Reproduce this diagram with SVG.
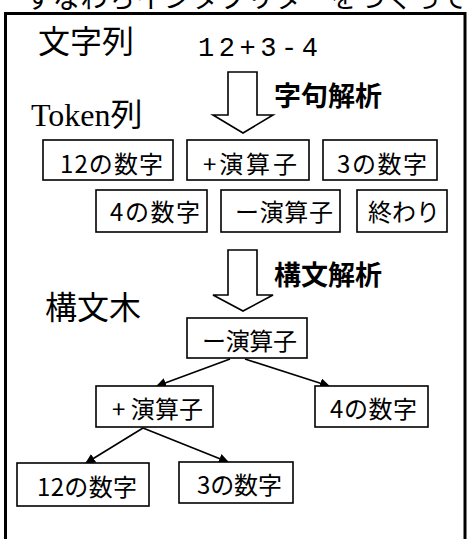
<svg xmlns="http://www.w3.org/2000/svg" width="471" height="539" viewBox="0 0 471 539">
<style>
.t{font-family:"Noto Sans CJK JP","Noto Sans",sans-serif;fill:#000}
.bx{fill:#fff;stroke:#000;stroke-width:1.6}
.lb{font-family:"Noto Sans CJK JP",sans-serif;font-size:24px;fill:#000}
.bd{font-family:"Noto Sans CJK JP",sans-serif;font-size:27px;font-weight:bold;fill:#000}
.ed{stroke:#000;stroke-width:1.6;fill:none;marker-end:url(#ah)}
.blk{fill:#fff;stroke:#000;stroke-width:1.6}
</style>
<defs>
<marker id="ah" viewBox="0 0 10 10" refX="9" refY="5" markerWidth="10" markerHeight="10" markerUnits="userSpaceOnUse" orient="auto">
<path d="M0,0 L10,5 L0,10 z" fill="#000"/>
</marker>
</defs>
<rect width="471" height="539" fill="#fff"/>
<text class="t" x="25" y="8" font-size="27" textLength="442" lengthAdjust="spacing">すなわちインタプリターをつくって</text>
<rect x="5.5" y="13.5" width="459.5" height="540" fill="none" stroke="#000" stroke-width="3"/>
<g id="title-str">
<text class="t" x="38" y="53" font-size="32">文字列</text>
<text x="198" y="56" font-family="Liberation Mono,monospace" font-size="27" textLength="120" lengthAdjust="spacing">12+3-4</text>
</g>
<g id="lex-arrow">
<path class="blk" d="M228,72 H257 V115 H273 L243,133 L213,115 H228 Z"/>
<text class="bd" x="274" y="106">字句解析</text>
</g>
<g id="token-title"><text x="31" y="126" font-family="Liberation Serif,serif" font-size="32">Token<tspan font-family="Noto Sans CJK JP,sans-serif">列</tspan></text></g>
<g id="tok1"><rect class="bx" x="43" y="140" width="130" height="40"/><text class="lb" x="60" y="173" textLength="103" lengthAdjust="spacing">12の数字</text></g>
<g id="tok2"><rect class="bx" x="187" y="140" width="122" height="40"/><text class="lb" x="203" y="173" textLength="94" lengthAdjust="spacing">+演算子</text></g>
<g id="tok3"><rect class="bx" x="323" y="140" width="114" height="40"/><text class="lb" x="337" y="173" textLength="90" lengthAdjust="spacing">3の数字</text></g>
<g id="tok4"><rect class="bx" x="96" y="190" width="111" height="42"/><text class="lb" x="110" y="221" textLength="90" lengthAdjust="spacing">4の数字</text></g>
<g id="tok5"><rect class="bx" x="221" y="190" width="119" height="42"/><text class="lb" x="235" y="221" textLength="98" lengthAdjust="spacing">ー演算子</text></g>
<g id="tok6"><rect class="bx" x="357" y="190" width="90" height="42"/><text class="lb" x="368" y="221" textLength="72" lengthAdjust="spacing">終わり</text></g>
<g id="parse-arrow">
<path class="blk" d="M228,250 H257 V295 H273 L243,311 L213,295 H228 Z"/>
<text class="bd" x="274" y="285">構文解析</text>
</g>
<g id="tree-title"><text class="t" x="45" y="319" font-size="32">構文木</text></g>
<g id="connectors">
<line class="ed" x1="230" y1="359" x2="157" y2="386"/>
<line class="ed" x1="245" y1="359" x2="329" y2="386"/>
<line class="ed" x1="143" y1="428" x2="86" y2="463"/>
<line class="ed" x1="143" y1="428" x2="228" y2="462"/>
</g>
<g id="root"><rect class="bx" x="187" y="318" width="120" height="40"/><text class="lb" x="202" y="350" textLength="95" lengthAdjust="spacing">ー演算子</text></g>
<g id="plus"><rect class="bx" x="96" y="386" width="117" height="41"/><text class="lb" x="112" y="418" textLength="91" lengthAdjust="spacing">+ 演算子</text></g>
<g id="n4"><rect class="bx" x="315" y="386" width="113" height="41"/><text class="lb" x="330" y="418" textLength="87" lengthAdjust="spacing">4の数字</text></g>
<g id="n12"><rect class="bx" x="17" y="463" width="132" height="43"/><text class="lb" x="37" y="496" textLength="100" lengthAdjust="spacing">12の数字</text></g>
<g id="n3"><rect class="bx" x="179" y="462" width="114" height="41"/><text class="lb" x="197" y="494" textLength="85" lengthAdjust="spacing">3の数字</text></g>
</svg>
